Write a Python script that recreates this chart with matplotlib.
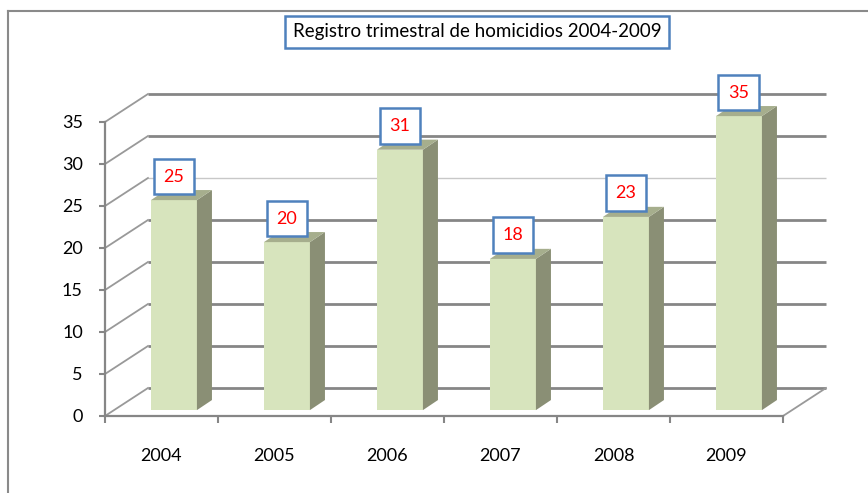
import numpy as np
import matplotlib.pyplot as plt
from matplotlib.patches import Polygon
from matplotlib.lines import Line2D

plt.rcParams['font.family'] = ['Lato', 'DejaVu Sans']

# data
years = ["2004", "2005", "2006", "2007", "2008", "2009"]
homicidios = [25, 20, 31, 18, 23, 35]
yticks = [0, 5, 10, 15, 20, 25, 30, 35]
titulo = "Registro trimestral de homicidios 2004-2009"

grid_col = "#868686"
front_col = "#D7E4BD"
side_col = "#8A8F75"
top_col = "#A6AE8D"
blue = "#4F81BD"

fig = plt.figure(figsize=(8.68, 4.93), dpi=100)
W, H = 868, 493
# axes = front plane of the 3d box
ax = fig.add_axes([105 / W, 77 / H, 678 / W, 294 / H])
ax.set_xlim(-0.5, 5.5)
ax.set_ylim(0, 35)

# depth of the box (data units)
DX, DY = 0.38, 3.33
# bar placement inside the box
ox, oy = 0.11, 0.7
bw = 0.407
ddx, ddy = 0.133, 1.2

x = np.arange(len(years))
x0, x1 = -0.5, len(years) - 0.5

# back wall gridlines + left wall diagonals
for v in yticks:
    c = "#c8c8c8" if v == 25 else grid_col
    lw = 1.0 if v == 25 else 2.0
    ax.plot([x0 + DX, x1 + DX], [v + DY, v + DY], color=c, lw=lw,
            clip_on=False, zorder=1, solid_capstyle="butt")
    ax.plot([x0, x0 + DX], [v, v + DY], color="#999999", lw=1.3,
            clip_on=False, zorder=1)
# floor right edge
ax.plot([x1, x1 + DX], [0, DY], color="#999999", lw=1.3, clip_on=False, zorder=1)

# bars: front face through ax.bar, side and top faces as polygons
bars = ax.bar(x + ox, homicidios, width=bw, bottom=oy, color=front_col,
              edgecolor="none", zorder=3, clip_on=False)
for xi, v in zip(x, homicidios):
    L = xi + ox - bw / 2
    R = L + bw
    b = oy
    t = oy + v
    side = Polygon([(R, b), (R + ddx, b + ddy), (R + ddx, t + ddy), (R, t)],
                   closed=True, facecolor=side_col, edgecolor="none",
                   zorder=3, clip_on=False)
    top = Polygon([(L, t), (L + ddx, t + ddy), (R + ddx, t + ddy), (R, t)],
                  closed=True, facecolor=top_col, edgecolor="none",
                  zorder=3, clip_on=False)
    ax.add_patch(side)
    ax.add_patch(top)
    ax.annotate(str(v), xy=(xi + ox, t), xytext=(0, 17),
                textcoords="offset points", ha="center", va="center",
                color="red", fontsize=13, zorder=6, annotation_clip=False,
                bbox=dict(boxstyle="square,pad=0.55", fc="white",
                          ec=blue, lw=1.8))

# axes styling
for s in ["top", "right"]:
    ax.spines[s].set_visible(False)
for s in ["left", "bottom"]:
    ax.spines[s].set_color(grid_col)
    ax.spines[s].set_linewidth(1.6)
    ax.spines[s].set_zorder(2)

ax.set_yticks(yticks)
ax.tick_params(axis="y", length=4, width=1.5, color=grid_col,
               labelsize=13, pad=12)
ax.set_xticks(np.arange(len(years) + 1) - 0.5)
ax.set_xticklabels([])
ax.set_xticks(x, minor=True)
ax.set_xticklabels(years, minor=True)
ax.tick_params(axis="x", which="major", length=5, width=1.5, color=grid_col)
ax.tick_params(axis="x", which="minor", length=0, labelsize=13, pad=23)
ax.patch.set_visible(False)

# title box
fig.text(477 / W, 1 - 32 / H, titulo, ha="center", va="center", fontsize=13.5,
         bbox=dict(boxstyle="square,pad=0.4", fc="white", ec=blue, lw=1.8))

# outer chart border
fig.add_artist(Line2D([8 / W, 1], [1 - 10.5 / H, 1 - 10.5 / H],
                      transform=fig.transFigure, color="#8a8a8a", lw=1.5))
fig.add_artist(Line2D([8 / W, 8 / W], [0, 1 - 10.5 / H],
                      transform=fig.transFigure, color="#8a8a8a", lw=1.5))

fig.savefig("out.png", dpi=100)
